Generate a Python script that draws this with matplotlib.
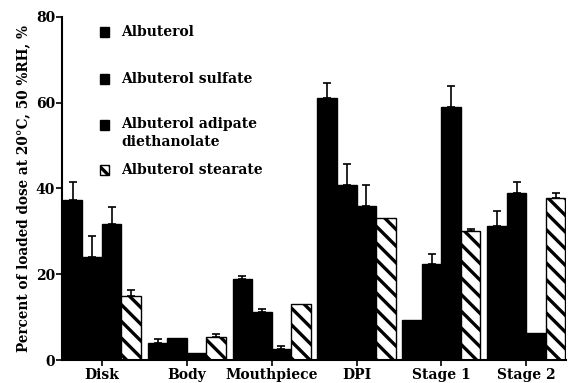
import numpy as np
import matplotlib.pyplot as plt
from matplotlib.patches import Rectangle

plt.rcParams['font.family'] = 'DejaVu Serif'
plt.rcParams['font.weight'] = 'bold'
plt.rcParams['axes.labelweight'] = 'bold'
plt.rcParams['hatch.linewidth'] = 2.4

groups = ['Disk', 'Body', 'Mouthpiece', 'DPI', 'Stage 1', 'Stage 2']
series = ['Albuterol', 'Albuterol sulfate', 'Albuterol adipate\ndiethanolate', 'Albuterol stearate']

albuterol = [37.3, 4.0, 18.9, 61.0, 9.3, 31.3]
albuterol_err = [4.3, 0.8, 0.7, 3.6, 0.0, 3.5]
sulfate = [24.0, 5.1, 11.2, 40.8, 22.4, 39.0]
sulfate_err = [4.9, 0.0, 0.8, 4.8, 2.3, 2.6]
adipate = [31.7, 1.6, 2.6, 35.9, 59.0, 6.3]
adipate_err = [4.0, 0.0, 0.7, 4.9, 4.9, 0.0]
stearate = [14.9, 5.4, 13.1, 33.1, 30.1, 37.8]
stearate_err = [1.4, 0.7, 0.0, 0.0, 0.5, 1.2]

values = [albuterol, sulfate, adipate, stearate]
errors = [albuterol_err, sulfate_err, adipate_err, stearate_err]

fig = plt.figure(figsize=(5.69, 3.83), dpi=100)
ax = fig.add_axes([0.109, 0.06, 0.886, 0.896])

x = np.arange(len(groups))
w = 0.23
for k in range(4):
    pos = x + (k - 1.5) * w
    if k == 3:
        ax.bar(pos, values[k], w, color='white', edgecolor='black',
               hatch='\\\\', linewidth=1.0)
    else:
        ax.bar(pos, values[k], w, color='black', edgecolor='black')
    errs = np.array(errors[k])
    keep = errs > 0
    ax.errorbar(pos[keep], np.array(values[k])[keep],
                yerr=[np.zeros(keep.sum()), errs[keep]],
                fmt='none', ecolor='black', elinewidth=1.2, capsize=3, capthick=1.2)

ax.set_xlim(-0.47, 5.47)
ax.set_ylim(0, 80)
ax.set_yticks([0, 20, 40, 60, 80])
ax.set_xticks(x)
ax.set_xticklabels(groups, fontsize=10)
ax.tick_params(axis='y', labelsize=10, length=4, width=1.2, pad=1)
ax.tick_params(axis='x', length=4, width=1.2, pad=2)
ax.spines['top'].set_visible(False)
ax.spines['right'].set_visible(False)
ax.spines['left'].set_linewidth(1.5)
ax.spines['bottom'].set_linewidth(1.5)
ax.set_ylabel('Percent of loaded dose at 20°C, 50 %RH, %', fontsize=9.8, labelpad=4)

# legend drawn by hand to keep the square beside the first line
leg_y = [0.956, 0.819, 0.685, 0.554]
for k, (name, yy) in enumerate(zip(series, leg_y)):
    if k == 3:
        sq = Rectangle((0.075, yy - 0.015), 0.019, 0.03, transform=ax.transAxes,
                       facecolor='white', edgecolor='black', hatch='\\\\\\', lw=1.0)
    else:
        sq = Rectangle((0.075, yy - 0.015), 0.019, 0.03, transform=ax.transAxes,
                       facecolor='black', edgecolor='black')
    ax.add_patch(sq)
    if '\n' in name:
        ax.text(0.118, yy + 0.022, name, transform=ax.transAxes, fontsize=10,
                va='top', ha='left', linespacing=1.35)
    else:
        ax.text(0.118, yy, name, transform=ax.transAxes, fontsize=10,
                va='center', ha='left')

fig.savefig('out.png', dpi=100)
